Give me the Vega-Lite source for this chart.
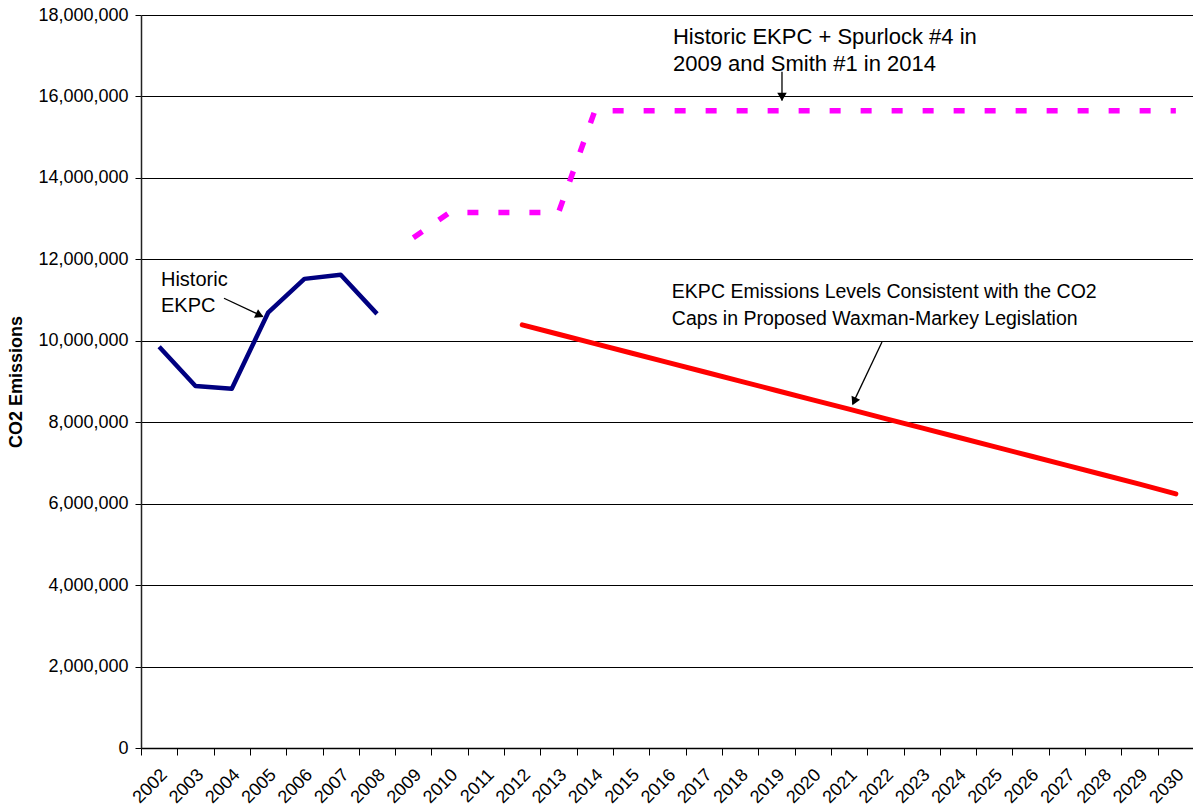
{
  "$schema": "https://vega.github.io/schema/vega-lite/v6.json",
  "autosize": {"type": "none"},
  "padding": {"left": 141, "top": 15, "right": 0, "bottom": 60},
  "width": 1053,
  "height": 733,
  "background": "white",
  "config": {"view": {"stroke": null}, "font": "Liberation Sans"},
  "datasets": {
    "series": [
      {"s": "hist", "yr": 2002, "v": 9855000},
      {"s": "hist", "yr": 2003, "v": 8890000},
      {"s": "hist", "yr": 2004, "v": 8820000},
      {"s": "hist", "yr": 2005, "v": 10690000},
      {"s": "hist", "yr": 2006, "v": 11520000},
      {"s": "hist", "yr": 2007, "v": 11620000},
      {"s": "hist", "yr": 2008, "v": 10660000},
      {"s": "spur", "yr": 2009, "v": 12530000},
      {"s": "spur", "yr": 2010, "v": 13150000},
      {"s": "spur", "yr": 2011, "v": 13150000},
      {"s": "spur", "yr": 2012, "v": 13150000},
      {"s": "spur", "yr": 2013, "v": 13150000},
      {"s": "spur", "yr": 2014, "v": 15650000},
      {"s": "spur", "yr": 2015, "v": 15650000},
      {"s": "spur", "yr": 2016, "v": 15650000},
      {"s": "spur", "yr": 2017, "v": 15650000},
      {"s": "spur", "yr": 2018, "v": 15650000},
      {"s": "spur", "yr": 2019, "v": 15650000},
      {"s": "spur", "yr": 2020, "v": 15650000},
      {"s": "spur", "yr": 2021, "v": 15650000},
      {"s": "spur", "yr": 2022, "v": 15650000},
      {"s": "spur", "yr": 2023, "v": 15650000},
      {"s": "spur", "yr": 2024, "v": 15650000},
      {"s": "spur", "yr": 2025, "v": 15650000},
      {"s": "spur", "yr": 2026, "v": 15650000},
      {"s": "spur", "yr": 2027, "v": 15650000},
      {"s": "spur", "yr": 2028, "v": 15650000},
      {"s": "spur", "yr": 2029, "v": 15650000},
      {"s": "spur", "yr": 2030, "v": 15650000},
      {"s": "wm", "yr": 2012, "v": 10390000},
      {"s": "wm", "yr": 2013, "v": 10160000},
      {"s": "wm", "yr": 2014, "v": 9930000},
      {"s": "wm", "yr": 2015, "v": 9700000},
      {"s": "wm", "yr": 2016, "v": 9470000},
      {"s": "wm", "yr": 2017, "v": 9240000},
      {"s": "wm", "yr": 2018, "v": 9010000},
      {"s": "wm", "yr": 2019, "v": 8780000},
      {"s": "wm", "yr": 2020, "v": 8550000},
      {"s": "wm", "yr": 2021, "v": 8320000},
      {"s": "wm", "yr": 2022, "v": 8090000},
      {"s": "wm", "yr": 2023, "v": 7860000},
      {"s": "wm", "yr": 2024, "v": 7630000},
      {"s": "wm", "yr": 2025, "v": 7400000},
      {"s": "wm", "yr": 2026, "v": 7170000},
      {"s": "wm", "yr": 2027, "v": 6940000},
      {"s": "wm", "yr": 2028, "v": 6710000},
      {"s": "wm", "yr": 2029, "v": 6480000},
      {"s": "wm", "yr": 2030, "v": 6240000}
    ],
    "notes": [
      {"id": "a", "txt": "Historic\nEKPC", "yr": 2002.05, "v": 11353000},
      {"id": "b", "txt": "Historic EKPC + Spurlock #4 in\n2009 and Smith #1 in 2014", "yr": 2016.15, "v": 17300000},
      {"id": "c", "txt": "EKPC Emissions Levels Consistent with the CO2\nCaps in Proposed Waxman-Markey Legislation", "yr": 2016.12, "v": 11050000}
    ],
    "arrows": [
      {"yr": 2003.786, "v": 11044000, "yr2": 2004.85, "v2": 10600000},
      {"yr": 2019.153, "v": 16609000, "yr2": 2019.153, "v2": 15900000},
      {"yr": 2021.907, "v": 9971000, "yr2": 2021.1, "v2": 8450000}
    ],
    "heads": [
      {"yr": 2004.77, "v": 10629000, "shape": "triangle-right", "ang": 25},
      {"yr": 2019.153, "v": 15987000, "shape": "triangle-down", "ang": 0},
      {"yr": 2021.139, "v": 8509000, "shape": "triangle-down", "ang": 25}
    ]
  },
  "layer": [
    {
      "data": {"name": "series"},
      "transform": [{"filter": "datum.s === 'hist'"}],
      "mark": {"type": "line", "color": "#000080", "strokeWidth": 4.5, "strokeCap": "butt", "strokeJoin": "round"},
      "encoding": {
        "x": {
          "field": "yr", "type": "quantitative",
          "scale": {"domain": [2001.5, 2030.5], "nice": false, "zero": false},
          "axis": {
            "orient": "bottom", "title": null, "values": [2002,2003,2004,2005,2006,2007,2008,2009,2010,2011,2012,2013,2014,2015,2016,2017,2018,2019,2020,2021,2022,2023,2024,2025,2026,2027,2028,2029,2030],
            "format": "d", "ticks": false, "tickSize": 0, "domain": false, "grid": false,
            "labelAngle": -45, "labelAlign": "right", "labelBaseline": "middle",
            "labelFontSize": 18, "labelColor": "#000", "labelPadding": 24, "labelOffset": 5,
            "labelOverlap": false, "labelFlush": false
          }
        },
        "y": {
          "field": "v", "type": "quantitative",
          "scale": {"domain": [0, 18000000], "nice": false, "zero": true},
          "axis": {
            "title": "CO2 Emissions", "titleFontSize": 18, "titleFontWeight": "bold", "titleColor": "#000", "titlePadding": 12,
            "values": [0,2000000,4000000,6000000,8000000,10000000,12000000,14000000,16000000,18000000],
            "format": ",d", "labelFontSize": 18, "labelColor": "#000", "labelPadding": 7,
            "tickSize": 6, "tickColor": "#000", "domainColor": "#222", "domainWidth": 1.5,
            "grid": true, "gridColor": "#000", "gridWidth": 1
          }
        }
      }
    },
    {
      "data": {"name": "series"},
      "transform": [{"filter": "datum.s === 'spur'"}],
      "mark": {"type": "line", "color": "#FF00FF", "strokeWidth": 5.5, "strokeCap": "butt", "strokeDash": [11, 20]},
      "encoding": {
        "x": {
          "field": "yr", "type": "quantitative",
          "axis": {
            "orient": "bottom", "title": null, "labels": false, "grid": false,
            "values": [2001.5,2002.5,2003.5,2004.5,2005.5,2006.5,2007.5,2008.5,2009.5,2010.5,2011.5,2012.5,2013.5,2014.5,2015.5,2016.5,2017.5,2018.5,2019.5,2020.5,2021.5,2022.5,2023.5,2024.5,2025.5,2026.5,2027.5,2028.5,2029.5,2030.5],
            "ticks": true, "tickSize": 7, "tickColor": "#000", "domain": true, "domainColor": "#000", "domainWidth": 1.5
          }
        },
        "y": {"field": "v", "type": "quantitative"}
      }
    },
    {
      "data": {"name": "series"},
      "transform": [{"filter": "datum.s === 'wm'"}],
      "mark": {"type": "line", "color": "#FF0000", "strokeWidth": 5, "strokeCap": "round"},
      "encoding": {
        "x": {"field": "yr", "type": "quantitative", "axis": null},
        "y": {"field": "v", "type": "quantitative"}
      }
    },
    {
      "data": {"name": "arrows"},
      "mark": {"type": "rule", "color": "#000", "strokeWidth": 1.3},
      "encoding": {
        "x": {"field": "yr", "type": "quantitative", "axis": null},
        "y": {"field": "v", "type": "quantitative"},
        "x2": {"field": "yr2"},
        "y2": {"field": "v2"}
      }
    },
    {
      "data": {"name": "heads"},
      "mark": {"type": "point", "filled": true, "color": "#000", "size": 90, "opacity": 1},
      "encoding": {
        "x": {"field": "yr", "type": "quantitative", "axis": null},
        "y": {"field": "v", "type": "quantitative"},
        "shape": {"field": "shape", "type": "nominal", "scale": null, "legend": null},
        "angle": {"field": "ang", "type": "quantitative", "scale": null}
      }
    },
    {
      "data": {"name": "notes"},
      "transform": [{"filter": "datum.id === 'a'"}],
      "mark": {"type": "text", "align": "left", "baseline": "alphabetic", "fontSize": 20, "lineHeight": 26.5, "lineBreak": "\n", "color": "#000", "font": "Liberation Sans"},
      "encoding": {
        "x": {"field": "yr", "type": "quantitative", "axis": null},
        "y": {"field": "v", "type": "quantitative"},
        "text": {"field": "txt"}
      }
    },
    {
      "data": {"name": "notes"},
      "transform": [{"filter": "datum.id === 'b'"}],
      "mark": {"type": "text", "align": "left", "baseline": "alphabetic", "fontSize": 22, "lineHeight": 27, "lineBreak": "\n", "color": "#000", "font": "Liberation Sans"},
      "encoding": {
        "x": {"field": "yr", "type": "quantitative", "axis": null},
        "y": {"field": "v", "type": "quantitative"},
        "text": {"field": "txt"}
      }
    },
    {
      "data": {"name": "notes"},
      "transform": [{"filter": "datum.id === 'c'"}],
      "mark": {"type": "text", "align": "left", "baseline": "alphabetic", "fontSize": 19.5, "lineHeight": 27, "lineBreak": "\n", "color": "#000", "font": "Liberation Sans"},
      "encoding": {
        "x": {"field": "yr", "type": "quantitative", "axis": null},
        "y": {"field": "v", "type": "quantitative"},
        "text": {"field": "txt"}
      }
    }
  ],
  "resolve": {"axis": {"x": "independent"}}
}
